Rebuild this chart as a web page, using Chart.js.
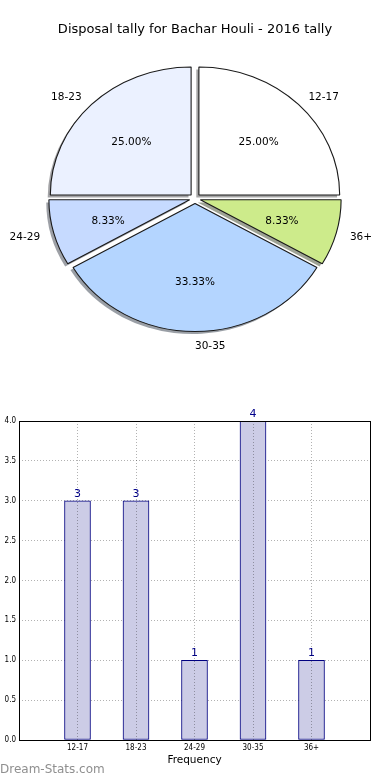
<!DOCTYPE html>
<html lang="en">
<head>
    <meta charset="UTF-8">
    <title>Disposal tally for Bachar Houli - 2016 tally</title>
    <script src="https://cdn.jsdelivr.net/npm/chart.js"></script>
    <style>
        body { margin: 0; background: #fff; }
        canvas { display: block; }
    </style>
</head>
<body>
    <canvas id="pieChart" width="390" height="380"></canvas>
    <canvas id="barChart" width="390" height="400"></canvas>
    <script>
        const ageGroups = ['12-17', '18-23', '24-29', '30-35', '36+'];
        const disposals = [3, 3, 1, 4, 1];
        const sliceColors = ['#ffffff', '#ebf1ff', '#c6daff', '#b4d5ff', '#cdeb8b'];

        const titleText = 'Disposal tally for Bachar Houli - 2016 tally';
        const xTitle = 'Frequency';
        const watermark = 'Dream-Stats.com';

        const font = 'DejaVu Sans';
        const stretchX = 1.1;   // pie is a bit wider than tall
        const explode = 5;      // px every slice is pushed out

        // matplotlib goes counter-clockwise from 3 o'clock, chart.js clockwise -> reverse
        const pieLabels = ageGroups.slice().reverse();
        const pieValues = disposals.slice().reverse();
        const pieColors = sliceColors.slice().reverse();
        const total = disposals.reduce((a, b) => a + b, 0);

        function shadowOf(hex) {
            const n = parseInt(hex.slice(1), 16);
            const r = Math.round(((n >> 16) & 255) * 0.3);
            const g = Math.round(((n >> 8) & 255) * 0.3);
            const b = Math.round((n & 255) * 0.3);
            return `rgba(${r},${g},${b},0.5)`;
        }

        function arcGeom(arc) {
            const p = arc.getProps(['x', 'y', 'startAngle', 'endAngle', 'outerRadius'], true);
            const mid = (p.startAngle + p.endAngle) / 2;
            return {
                ...p, mid,
                cx: p.x + Math.cos(mid) * explode,
                cy: p.y + Math.sin(mid) * explode
            };
        }

        // push each slice out along its bisector, same distance for all
        function explodedDraw(ctx, area) {
            const mid = (this.startAngle + this.endAngle) / 2;
            ctx.save();
            ctx.translate(Math.cos(mid) * explode, Math.sin(mid) * explode);
            Object.getPrototypeOf(this).draw.call(this, ctx, area);
            ctx.restore();
        }

        const pieStyle = {
            id: 'pieStyle',
            afterUpdate(chart) {
                chart.getDatasetMeta(0).data.forEach(arc => { arc.draw = explodedDraw; });
            },
            beforeDatasetsDraw(chart) {
                const ctx = chart.ctx;
                const meta = chart.getDatasetMeta(0);
                const cx = meta.data[0].x, cy = meta.data[0].y;
                ctx.save();
                ctx.translate(cx, cy);
                ctx.scale(stretchX, 1);
                ctx.translate(-cx, -cy);
                // drop shadows
                meta.data.forEach((arc, i) => {
                    const g = arcGeom(arc);
                    const ox = g.cx - 2.6 / stretchX, oy = g.cy + 2.6;
                    ctx.beginPath();
                    ctx.moveTo(ox, oy);
                    ctx.arc(ox, oy, g.outerRadius, g.startAngle, g.endAngle);
                    ctx.closePath();
                    ctx.fillStyle = shadowOf(pieColors[i]);
                    ctx.fill();
                });
            },
            afterDatasetsDraw(chart) {
                const ctx = chart.ctx;
                ctx.restore();
                const meta = chart.getDatasetMeta(0);
                ctx.save();
                ctx.fillStyle = '#000';
                ctx.font = `10.5px "${font}"`;
                ctx.textBaseline = 'middle';
                meta.data.forEach((arc, i) => {
                    const g = arcGeom(arc);
                    const cos = Math.cos(g.mid), sin = Math.sin(g.mid);
                    // category label
                    const lx = g.cx + cos * 1.1 * g.outerRadius;
                    const ly = g.cy + sin * 1.1 * g.outerRadius + 1.5;
                    ctx.textAlign = cos > -1e-6 ? 'left' : 'right';
                    ctx.fillText(pieLabels[i], g.x + (lx - g.x) * stretchX, ly);
                    // percentage
                    const px = g.cx + cos * 0.6 * g.outerRadius;
                    const py = g.cy + sin * 0.6 * g.outerRadius + 1.5;
                    ctx.textAlign = 'center';
                    const pct = (pieValues[i] / total * 100).toFixed(2) + '%';
                    ctx.fillText(pct, g.x + (px - g.x) * stretchX, py);
                });
                ctx.restore();
            }
        };

        new Chart(document.getElementById('pieChart'), {
            type: 'pie',
            data: {
                labels: pieLabels,
                datasets: [{
                    data: pieValues,
                    backgroundColor: pieColors,
                    borderColor: '#1a1a1a',
                    borderWidth: 1
                }]
            },
            options: {
                responsive: false,
                animation: false,
                events: [],
                radius: 128,
                rotation: 90,
                layout: { padding: { top: 0, bottom: 20.6, left: 0, right: 0 } },
                plugins: {
                    legend: { display: false },
                    tooltip: { enabled: false },
                    title: {
                        display: true,
                        text: titleText,
                        color: '#000',
                        font: { family: font, size: 13, weight: 'normal' },
                        padding: { top: 22, bottom: 0 }
                    }
                }
            },
            plugins: [pieStyle]
        });

        const barExtras = {
            id: 'barExtras',
            afterDatasetsDraw(chart) {
                const ctx = chart.ctx;
                const meta = chart.getDatasetMeta(0);
                ctx.save();
                ctx.fillStyle = '#00008b';
                ctx.font = `11px "${font}"`;
                ctx.textAlign = 'center';
                ctx.textBaseline = 'alphabetic';
                meta.data.forEach((bar, i) => {
                    ctx.fillText(String(disposals[i]), bar.x, bar.y - 4);
                });
                ctx.restore();
            },
            afterDraw(chart) {
                const ctx = chart.ctx;
                const a = chart.chartArea;
                ctx.save();
                ctx.strokeStyle = '#000';
                ctx.lineWidth = 1;
                ctx.strokeRect(Math.round(a.left) + 0.5, Math.round(a.top) + 0.5,
                    Math.round(a.right - a.left), Math.round(a.bottom - a.top));
                ctx.fillStyle = '#8f8f8f';
                ctx.font = `12px "${font}"`;
                ctx.textAlign = 'left';
                ctx.textBaseline = 'middle';
                ctx.fillText(watermark, 0, 390);
                ctx.restore();
            }
        };

        const tickFont = { family: 'DejaVu Sans Condensed, DejaVu Sans', size: 8 };

        new Chart(document.getElementById('barChart'), {
            type: 'bar',
            data: {
                datasets: [{
                    data: disposals.map((v, i) => ({ x: i, y: v })),
                    backgroundColor: '#cccce6',
                    borderColor: '#000080',
                    borderWidth: 1,
                    borderSkipped: false,
                    barThickness: 26
                }]
            },
            options: {
                responsive: false,
                animation: false,
                events: [],
                layout: { padding: { top: 41, right: 20, left: 0, bottom: 0 } },
                plugins: {
                    legend: { display: false },
                    tooltip: { enabled: false }
                },
                scales: {
                    x: {
                        type: 'linear',
                        min: -1,
                        max: 5,
                        offset: false,
                        ticks: {
                            stepSize: 1,
                            autoSkip: false,
                            maxRotation: 0,
                            padding: 3,
                            color: '#000',
                            font: tickFont,
                            callback: v => ageGroups[v] ?? ''
                        },
                        grid: { color: 'rgba(0,0,0,0.3)', drawTicks: false, offset: false, z: 1 },
                        border: { display: false, dash: [1, 2] },
                        title: {
                            display: true,
                            text: xTitle,
                            color: '#000',
                            font: { family: font, size: 10.5 },
                            padding: { top: 0, bottom: 13.7 }
                        },
                        afterFit: s => { s.height = 40; }
                    },
                    y: {
                        min: 0,
                        max: 4,
                        ticks: {
                            stepSize: 0.5,
                            padding: 3,
                            color: '#000',
                            font: tickFont,
                            callback: v => v.toFixed(1)
                        },
                        grid: { color: 'rgba(0,0,0,0.3)', drawTicks: false },
                        border: { display: false, dash: [1, 2] },
                        afterFit: s => { s.width = 19; }
                    }
                }
            },
            plugins: [barExtras]
        });
    </script>
</body>
</html>
